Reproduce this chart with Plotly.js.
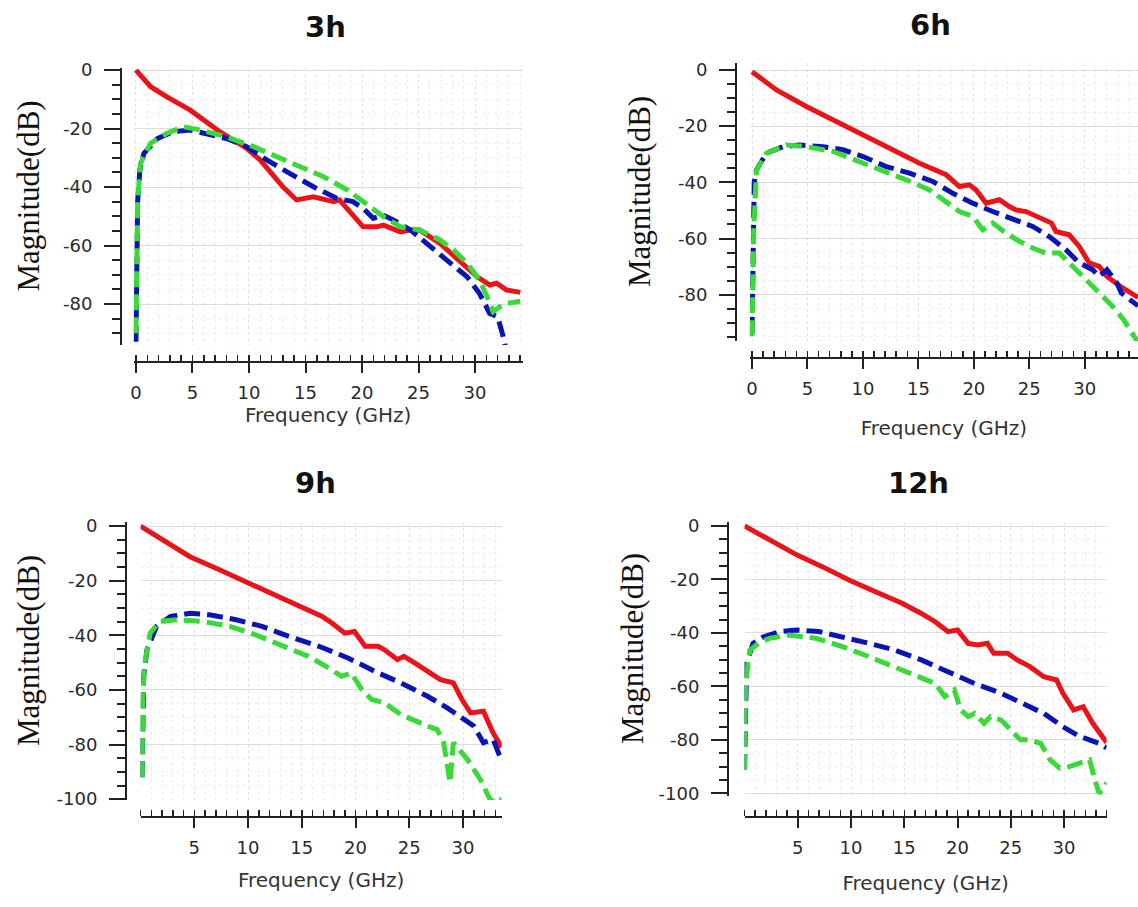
<!DOCTYPE html>
<html>
<head>
<meta charset="utf-8">
<script src="https://cdn.plot.ly/plotly-3.0.1.min.js"></script>
<style>html,body{margin:0;padding:0;background:#fff;}#chart{width:1138px;height:907px;}</style>
</head>
<body>
<div id="chart"></div>
<script>
// ---------- data (Frequency in GHz, Magnitude in dB) ----------
const panelTitles = ["3h", "6h", "9h", "12h"];
const seriesNames = ["Red", "Blue", "Green"];

// 3h
const f3_red   = [0, 1.3, 2.7, 4.8, 7.2, 9.8, 11, 13, 14.2, 15.7, 17.5, 18, 20.1, 21.3, 21.9, 23.4, 24.3, 25.1, 26.9, 28.7, 30.2, 31.3, 31.9, 32.8, 34];
const m3_red   = [0, -5.7, -9.1, -13.7, -20.5, -26.8, -30.8, -39.9, -44.4, -43.3, -45, -44.4, -53.6, -53.6, -53, -55.3, -54.7, -54.7, -59.3, -65.5, -70.7, -73.5, -72.9, -75.2, -76];
const f3_blue  = [0, 0.05, 0.15, 0.35, 0.7, 1.9, 3.3, 4.8, 6.3, 8, 9.8, 11.6, 13.6, 15.7, 17.8, 19.2, 20.1, 21, 21.9, 22.8, 24.3, 26, 27.5, 29.3, 30.4, 31.3, 32, 32.5, 32.8, 34];
const m3_blue  = [-92.9, -70, -45, -34, -28.5, -23.4, -21.1, -20.5, -21.7, -23.4, -26.2, -30.8, -35.3, -39.9, -43.9, -45, -47.3, -50.7, -49.6, -51.3, -54.7, -60.4, -65, -70.7, -76.4, -83.2, -84.3, -91.2, -97, -99];
const f3_green = [0, 0.05, 0.15, 0.4, 1.3, 2.7, 4.2, 5.7, 8, 10.4, 12.2, 14.5, 16.6, 18.7, 20.4, 21.9, 23.4, 25.1, 26.9, 28.1, 29.3, 30.4, 31.2, 31.6, 32.2, 32.8, 34];
const m3_green = [-90, -60, -45, -31.9, -25, -21.7, -19.4, -20.5, -22.8, -26.2, -29.1, -33, -36.5, -41, -45.6, -50.1, -53.6, -54.7, -58.1, -61.5, -66.1, -71.8, -78.6, -82.6, -80.9, -79.8, -79];

// 6h
const f6_red   = [0, 2.2, 4.9, 7.3, 9.7, 12.4, 15.1, 17.5, 18.7, 19.6, 20.2, 21.1, 22.3, 23.2, 23.8, 24.7, 25.6, 27, 27.4, 28.6, 29.5, 30.4, 31.3, 32, 33.2, 34.8];
const m6_red   = [-0.6, -7.1, -13, -17.8, -22.5, -27.9, -33.2, -37.3, -41.5, -40.9, -42.7, -47.4, -46.2, -48.6, -49.8, -50.4, -52.1, -54.5, -57.5, -58.7, -62.8, -68.7, -69.9, -73.5, -77, -81];
const f6_blue  = [0, 0.1, 0.2, 0.4, 1.3, 2.8, 4.3, 6.4, 8.2, 10, 12.1, 14.2, 16.3, 18.1, 19.9, 21.7, 23.8, 25.3, 26.8, 28.3, 29.5, 30.7, 31.3, 32, 32.9, 33.3, 34.8];
const m6_blue  = [-93.6, -49.8, -40, -35.6, -29.6, -27.3, -26.7, -27.3, -28.4, -30.8, -34.4, -36.7, -39.7, -43.9, -47.4, -50.4, -53.3, -55.7, -59.3, -64, -68.7, -71.1, -73.5, -71.1, -75.9, -79.4, -84];
const f6_green = [0, 0.05, 0.15, 0.4, 1.3, 3.1, 4.9, 7.3, 9.7, 11.8, 13.9, 16, 17.5, 18.7, 19.9, 20.8, 21.7, 22.9, 24.1, 25.3, 26.5, 27.7, 28.9, 30.1, 31.3, 32.5, 33.5, 34.4, 34.8];
const m6_green = [-94.8, -70, -58, -35.6, -29.6, -26.7, -27.3, -29, -32.6, -35.6, -39.1, -42.7, -46.8, -50.4, -52.1, -56.9, -54.5, -58.1, -61, -63.4, -65.2, -65.2, -69.9, -74.7, -79.4, -84.1, -88.9, -94.8, -97];

// 9h
const f9_red   = [0, 2.1, 4.6, 7.4, 10.1, 12.9, 15, 16.9, 17.8, 19, 19.9, 20.9, 22.1, 22.7, 23.9, 24.5, 25.5, 26.7, 27.9, 29.1, 29.9, 30.7, 31.9, 32.8, 33.6];
const m9_red   = [0, -5.1, -11.2, -16.1, -20.9, -25.8, -29.4, -33.1, -35.5, -39.2, -38.6, -44, -44, -45.3, -48.9, -47.7, -50.1, -53.2, -56.2, -57.4, -63.5, -68.4, -67.8, -75.7, -81];
const f9_blue  = [0.15, 0.2, 0.3, 0.6, 1.5, 2.8, 4.6, 6.4, 8.9, 11.3, 13.8, 16.6, 19.3, 21.8, 24.2, 26.7, 28.5, 30.1, 31, 31.9, 32.8, 33.6];
const m9_blue  = [-92, -69.6, -55, -45.3, -36.7, -33.1, -31.9, -32.5, -34.3, -36.7, -40.4, -44, -48.3, -53.2, -57.4, -62.3, -66.5, -70.8, -73.2, -79.3, -78.1, -86];
const f9_green = [0.15, 0.2, 0.35, 0.9, 1.8, 3.4, 5.8, 8.3, 10.7, 13.2, 15.6, 17.5, 18.7, 19.6, 20.6, 21.5, 22.7, 24.2, 25.5, 26.7, 27.6, 28.2, 28.8, 29.1, 30.4, 31.6, 32.5, 33.1, 33.6];
const m9_green = [-92, -65, -51.3, -39.2, -34.9, -34.3, -34.9, -36.7, -39.8, -44, -47.7, -51.9, -55, -53.8, -59.9, -63.5, -64.7, -69, -71.4, -73.2, -74.5, -79.3, -93.9, -79.3, -85.4, -92.7, -100, -101.2, -100];

// 12h
const f12_red   = [0, 2.4, 4.9, 7.3, 9.8, 12.3, 14.8, 16.6, 17.9, 19.1, 20, 21, 21.9, 22.8, 23.4, 24.7, 25.6, 26.8, 28.1, 29.3, 29.9, 30.9, 31.8, 32.7, 33.7, 34];
const m12_red   = [0, -5.2, -10.8, -15.2, -20.2, -24.6, -28.9, -32.7, -35.8, -39.5, -38.9, -43.9, -44.5, -43.9, -47.6, -47.6, -50.1, -52.6, -56.4, -57.6, -62.6, -68.8, -67.6, -73.8, -80, -81];
const f12_blue  = [0, 0.05, 0.2, 0.8, 1.8, 3.3, 4.9, 7, 9.2, 11.7, 14.1, 16.6, 19.1, 21.6, 24.1, 26.2, 28.1, 29.9, 31.5, 32.4, 33.3, 34];
const m12_blue  = [-91.3, -71.3, -51.4, -43.9, -41.4, -39.5, -38.9, -39.5, -41.4, -43.9, -46.4, -50.1, -54.5, -58.9, -62.6, -66.3, -70.1, -75.1, -78.8, -80, -81.3, -83];
const f12_green = [0, 0.1, 0.5, 1.5, 2.4, 4.2, 6.7, 9.2, 11.7, 14.1, 16.6, 17.9, 18.8, 19.7, 20.3, 21, 21.6, 22.5, 23.1, 24.1, 25, 25.9, 26.8, 27.8, 28.7, 29.6, 30.5, 31.5, 32.4, 33, 33.3, 33.8, 34];
const m12_green = [-91.3, -58.9, -46.4, -43.3, -42, -40.8, -42, -45.1, -48.9, -52.6, -56.4, -58.9, -63.8, -61.3, -68.8, -71.3, -70.1, -73.8, -71.3, -72.6, -76.3, -80, -80, -81.3, -87.5, -90.6, -90, -88.8, -87.5, -96.3, -100, -97.5, -96];

const panelData = [
  [[f3_red, m3_red], [f3_blue, m3_blue], [f3_green, m3_green]],
  [[f6_red, m6_red], [f6_blue, m6_blue], [f6_green, m6_green]],
  [[f9_red, m9_red], [f9_blue, m9_blue], [f9_green, m9_green]],
  [[f12_red, m12_red], [f12_blue, m12_blue], [f12_green, m12_green]]
];

// ---------- layout geometry (pixels) ----------
const W = 1138, H = 907;
const colors = ["#e8141a", "#0a14b4", "#3ad93a"];
const dashes = ["solid", "16px,7px", "16px,7px"];
const geo = [
  {xl: 133.7, xr: 522.5, yt: 68, yb: 345, xpos: 362, ypos: 121, xr0: [-0.2, 34.2], yr0: [-94, 0.7], t: [325, 27], so: 1, yl: 28, xtick0: true},
  {xl: 749.8, xr: 1138, yt: 63, yb: 341, xpos: 358, ypos: 736, xr0: [-0.2, 34.8], yr0: [-96.5, 2.5], t: [930, 25], so: 22, yl: 640, xtick0: true},
  {xl: 140.5, xr: 501.7, yt: 522, yb: 800, xpos: 817, ypos: 126, xr0: [0, 33.6], yr0: [-100.3, 1.5], t: [315, 483], so: 15, yl: 28, xtick0: false},
  {xl: 744.5, xr: 1106.6, yt: 522, yb: 796, xpos: 817, ypos: 728, xr0: [0, 34], yr0: [-101, 1.5], t: [918, 483], so: 18, yl: 632, xtick0: false}
];

const traces = [];
const layout = {
  width: W, height: H,
  margin: {l: 0, r: 0, t: 0, b: 0},
  paper_bgcolor: "#ffffff", plot_bgcolor: "#ffffff",
  showlegend: false,
  annotations: []
};

const tickFont = {family: "DejaVu Sans, Verdana, sans-serif", size: 18, color: "#2a2a2a"};

geo.forEach((g, i) => {
  const n = i + 1;
  const xa = "x" + (n === 1 ? "" : n), ya = "y" + (n === 1 ? "" : n);
  panelData[i].forEach((s, k) => {
    traces.push({
      x: s[0], y: s[1], type: "scatter", mode: "lines", name: seriesNames[k],
      xaxis: xa, yaxis: ya,
      line: {color: colors[k], width: 5, dash: dashes[k]},
      hoverinfo: "skip"
    });
  });
  const xkey = "xaxis" + (n === 1 ? "" : n), ykey = "yaxis" + (n === 1 ? "" : n);
  const xvals = g.xtick0 ? [0, 5, 10, 15, 20, 25, 30] : [5, 10, 15, 20, 25, 30];
  layout[xkey] = {
    domain: [g.xl / W, g.xr / W],
    range: g.xr0,
    anchor: "free",
    position: 1 - g.xpos / H,
    tickmode: "array", tickvals: xvals, ticktext: xvals.map(String),
    ticks: "outside", ticklen: 10, tickwidth: 2, tickcolor: "#222",
    showline: true, linecolor: "#222", linewidth: 2,
    tickfont: tickFont, ticklabelstandoff: 4,
    showgrid: true, gridcolor: "#e2e2e2", griddash: "dot", gridwidth: 1,
    minor: {dtick: 1, tick0: 0, ticks: "inside", ticklen: 6, tickwidth: 1.5, tickcolor: "#222", showgrid: true, gridcolor: "#ececec", griddash: "dot"},
    zeroline: false, fixedrange: true,
    title: {text: "Frequency (GHz)", font: {family: "DejaVu Sans, Verdana, sans-serif", size: 20, color: "#333"}, standoff: g.so}
  };
  const yvals = g.yr0[0] <= -100 ? [0, -20, -40, -60, -80, -100] : [0, -20, -40, -60, -80];
  layout[ykey] = {
    domain: [1 - g.yb / H, 1 - g.yt / H],
    range: g.yr0,
    anchor: "free",
    position: g.ypos / W,
    tickmode: "array", tickvals: yvals, ticktext: yvals.map(String),
    ticks: "outside", ticklen: 16, tickwidth: 2, tickcolor: "#222",
    showline: true, linecolor: "#222", linewidth: 2,
    tickfont: tickFont, ticklabelstandoff: 8,
    showgrid: true, gridcolor: "#dcdcdc", gridwidth: 1,
    minor: {dtick: 5, tick0: 0, ticks: "outside", ticklen: 8, tickwidth: 2, tickcolor: "#222", showgrid: true, gridcolor: "#efefef", griddash: "dot"},
    zeroline: false, fixedrange: true
  };
  layout.annotations.push({
    text: "<b>" + panelTitles[i] + "</b>", xref: "paper", yref: "paper",
    x: g.t[0] / W, y: 1 - g.t[1] / H, xanchor: "center", yanchor: "middle",
    showarrow: false, font: {family: "DejaVu Sans, Verdana, sans-serif", size: 29, color: "#111"}
  });
  layout.annotations.push({
    text: "Magnitude(dB)", xref: "paper", yref: "paper",
    x: g.yl / W, y: 1 - ((g.yt + g.yb) / 2 - 10) / H, xanchor: "center", yanchor: "middle",
    textangle: -90, showarrow: false,
    font: {family: "Liberation Serif, Times New Roman, serif", size: 31, color: "#111"}
  });
});

Plotly.newPlot("chart", traces, layout, {staticPlot: true, displayModeBar: false});
</script>
</body>
</html>
